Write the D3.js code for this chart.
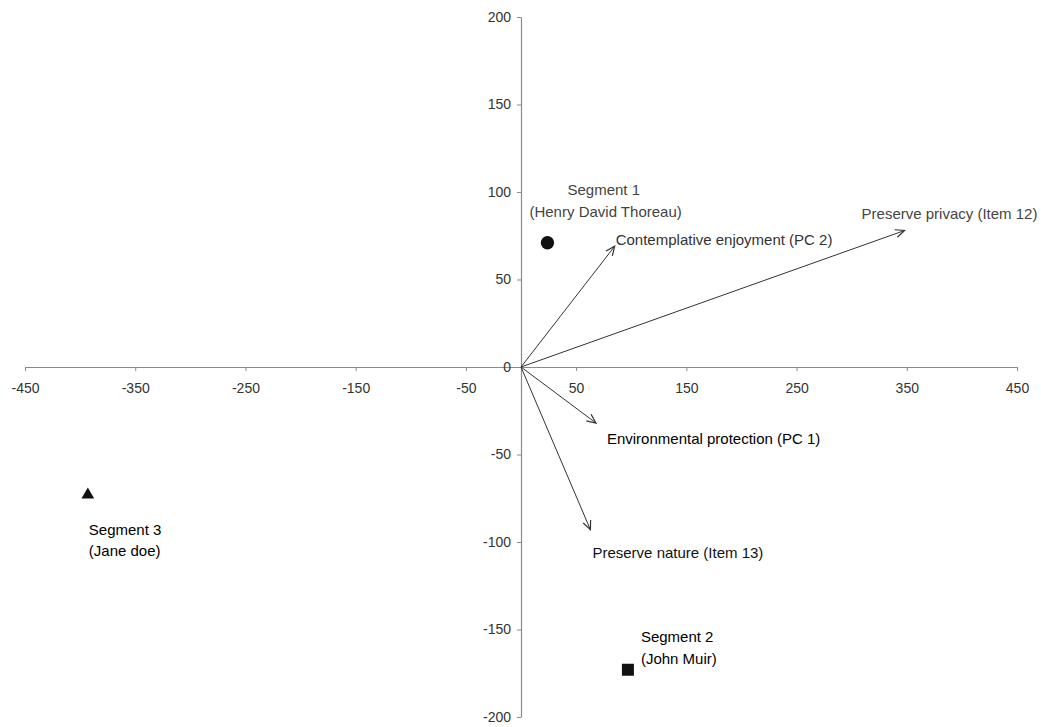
<!DOCTYPE html>
<html>
<head>
<meta charset="utf-8">
<script src="https://cdn.jsdelivr.net/npm/d3@7"></script>
<style>
  body { margin: 0; background: #fff; }
  svg { display: block; font-family: Arial, "Liberation Sans", sans-serif; }
</style>
</head>
<body>
<div id="chart"></div>
<script>
// Biplot: attitude vectors and segment centroids

// Axis ticks
const xTicks = [-450, -350, -250, -150, -50, 50, 150, 250, 350, 450]
const yTicks = [-200, -150, -100, -50, 0, 50, 100, 150, 200]

// Vectors (loadings), drawn from the origin
const vectorNames = [
  'Contemplative enjoyment (PC 2)',
  'Preserve privacy (Item 12)',
  'Environmental protection (PC 1)',
  'Preserve nature (Item 13)'
]
const vectorX = [85, 348, 68, 63]
const vectorY = [69, 78, -32, -93]

// Segment centroids
const segmentNames = ['Segment 1', 'Segment 2', 'Segment 3']
const segmentPeople = ['(Henry David Thoreau)', '(John Muir)', '(Jane doe)']
const segmentX = [24, 97, -393]
const segmentY = [71, -173, -73]
const segmentShapes = ['circle', 'square', 'triangle']

// Label placement (pixel offsets from the mark)
const vectorLabelOffset = [
  { dx: 1, dy: -1, fill: '#333' },
  { dx: -43, dy: -12, fill: '#444' },
  { dx: 11, dy: 21, fill: '#000' },
  { dx: 2, dy: 28, fill: '#111' }
]
const segmentLabelOffset = [
  [{ dx: 20, dy: -48 }, { dx: -18, dy: -26 }],
  [{ dx: 13, dy: -28 }, { dx: 13, dy: -6 }],
  [{ dx: 1, dy: 40 }, { dx: 1, dy: 61 }]
]
const segmentLabelFill = ['#444', '#000', '#000']

const width = 1041
const height = 727

const x = d3.scaleLinear().domain([-450, 450]).range([25, 1017])
const y = d3.scaleLinear().domain([-200, 200]).range([717, 17])

const svg = d3.select('#chart')
  .append('svg')
  .attr('width', width)
  .attr('height', height)

svg.append('defs')
  .append('marker')
  .attr('id', 'arrowhead')
  .attr('viewBox', '-10 -6 12 12')
  .attr('refX', 0)
  .attr('refY', 0)
  .attr('markerWidth', 12)
  .attr('markerHeight', 12)
  .attr('markerUnits', 'userSpaceOnUse')
  .attr('orient', 'auto')
  .append('path')
  .attr('d', 'M-9,-4 L0,0 L-9,4')
  .attr('fill', 'none')
  .attr('stroke', '#333')
  .attr('stroke-width', 1.2)

const plainNumber = d => String(d)

// X axis through the origin
const xAxis = svg.append('g')
  .attr('transform', `translate(0,${y(0)})`)
  .call(d3.axisBottom(x).tickValues(xTicks).tickFormat(plainNumber)
    .tickSize(4).tickSizeOuter(0).tickPadding(12))

// Y axis through the origin
const yAxis = svg.append('g')
  .attr('transform', `translate(${x(0)},0)`)
  .call(d3.axisLeft(y).tickValues(yTicks).tickFormat(plainNumber)
    .tickSize(4).tickSizeOuter(0).tickPadding(6))

;[xAxis, yAxis].forEach(ax => {
  ax.select('.domain').attr('stroke', '#8a8a8a').attr('stroke-width', 1.2)
  ax.selectAll('.tick line').attr('stroke', '#8a8a8a')
  ax.selectAll('.tick text')
    .attr('fill', '#333')
    .attr('font-size', '14px')
    .attr('font-family', 'Arial, "Liberation Sans", sans-serif')
})

// Vectors
const vectors = vectorNames.map((name, i) => ({ name, vx: vectorX[i], vy: vectorY[i], off: vectorLabelOffset[i] }))

svg.selectAll('.vector')
  .data(vectors)
  .join('line')
  .attr('class', 'vector')
  .attr('x1', x(0))
  .attr('y1', y(0))
  .attr('x2', d => x(d.vx))
  .attr('y2', d => y(d.vy))
  .attr('stroke', '#333')
  .attr('stroke-width', 1)
  .attr('marker-end', 'url(#arrowhead)')

svg.selectAll('.vector-label')
  .data(vectors)
  .join('text')
  .attr('class', 'vector-label')
  .attr('x', d => x(d.vx) + d.off.dx)
  .attr('y', d => y(d.vy) + d.off.dy)
  .attr('fill', d => d.off.fill)
  .attr('font-size', '15px')
  .text(d => d.name)

// Segment markers
const segments = segmentNames.map((name, i) => ({
  name,
  person: segmentPeople[i],
  sx: segmentX[i],
  sy: segmentY[i],
  shape: segmentShapes[i],
  off: segmentLabelOffset[i],
  fill: segmentLabelFill[i]
}))

const symbolFor = {
  circle: d3.symbol().type(d3.symbolCircle).size(140),
  square: d3.symbol().type(d3.symbolSquare).size(144),
  triangle: d3.symbol().type(d3.symbolTriangle).size(70)
}

svg.selectAll('.segment')
  .data(segments)
  .join('path')
  .attr('class', 'segment')
  .attr('transform', d => `translate(${x(d.sx)},${y(d.sy)})`)
  .attr('d', d => symbolFor[d.shape]())
  .attr('fill', '#111')

const segLabels = svg.selectAll('.segment-label')
  .data(segments)
  .join('g')
  .attr('class', 'segment-label')
  .attr('transform', d => `translate(${x(d.sx)},${y(d.sy)})`)

segLabels.append('text')
  .attr('x', d => d.off[0].dx)
  .attr('y', d => d.off[0].dy)
  .attr('fill', d => d.fill)
  .attr('font-size', '15px')
  .text(d => d.name)

segLabels.append('text')
  .attr('x', d => d.off[1].dx)
  .attr('y', d => d.off[1].dy)
  .attr('fill', d => d.fill)
  .attr('font-size', '15px')
  .text(d => d.person)
</script>
</body>
</html>
